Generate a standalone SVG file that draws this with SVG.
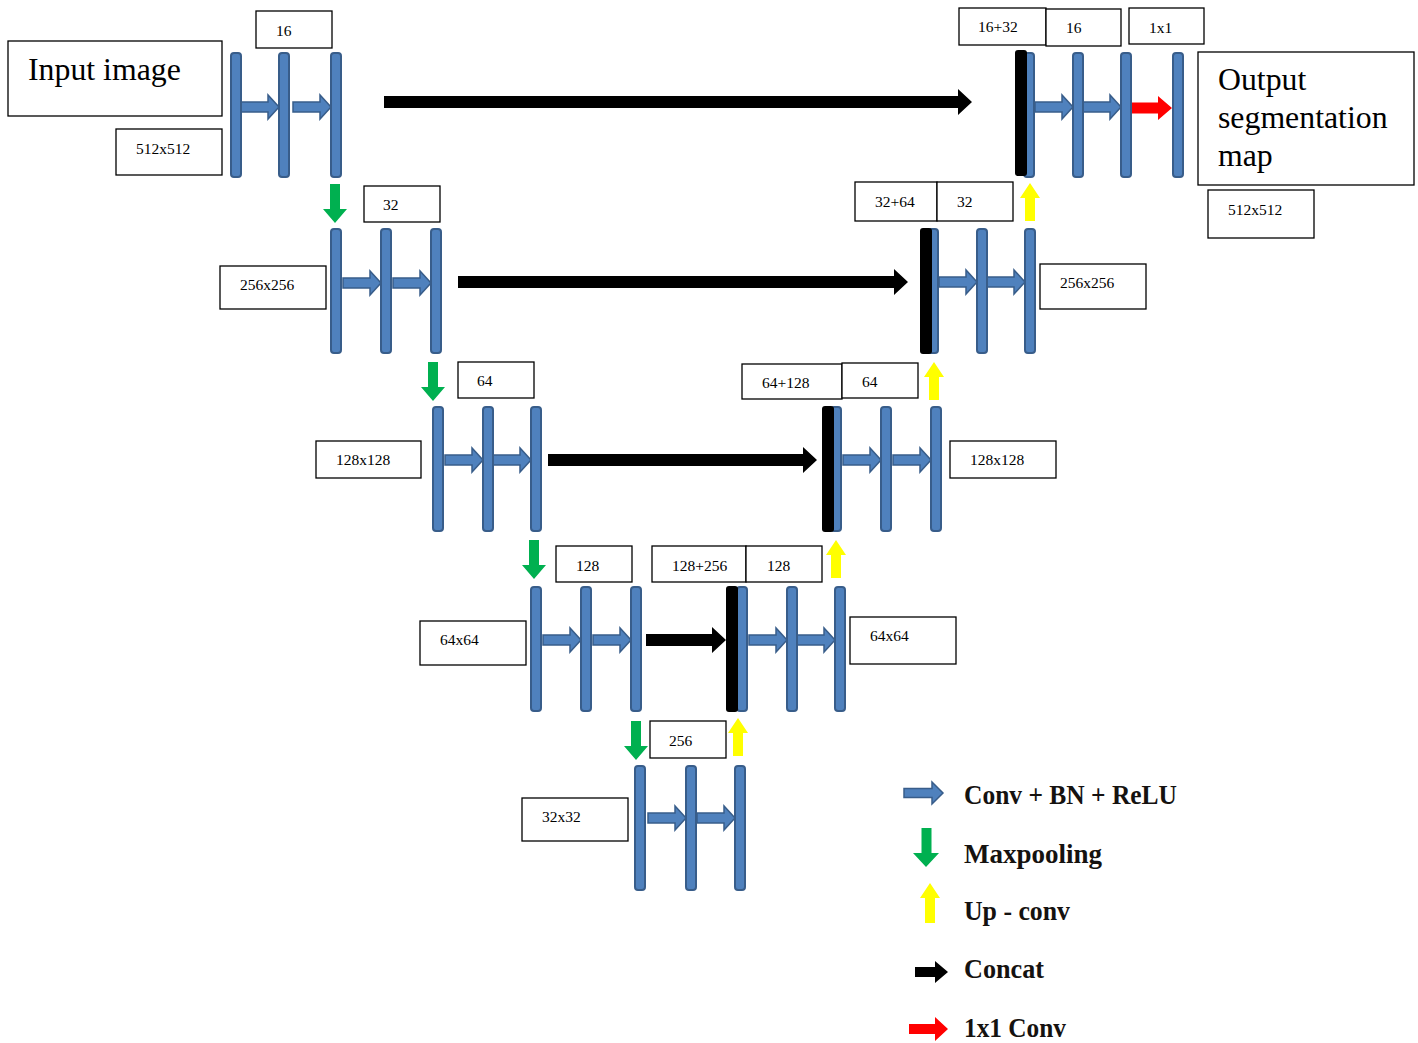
<svg xmlns="http://www.w3.org/2000/svg" width="1418" height="1043" viewBox="0 0 1418 1043">
<style>
.bar{fill:#4f81bd;stroke:#385d8a;stroke-width:2}
.cat{fill:#000}
.box{fill:#fff;stroke:#000;stroke-width:1.3}
.lbl{font-family:"Liberation Serif","Times New Roman",serif;font-size:15.5px;fill:#000}
.big{font-family:"Liberation Serif","Times New Roman",serif;font-size:31.8px;fill:#000}
.leg{font-family:"Liberation Serif","Times New Roman",serif;font-size:27px;font-weight:bold;fill:#151210}
.conv{fill:#4f81bd;stroke:#385d8a;stroke-width:1.5}
.pool{fill:#00b050}
.up{fill:#ffff00}
.concat{fill:#000}
.one{fill:#ff0000}
</style>
<defs>
<rect id="b" class="bar" width="10" height="124" rx="3"/>
<rect id="k" class="cat" width="12" height="126" rx="3"/>
<path id="cv" class="conv" d="M-38,-5 H-11 V-12 L0,0 L-11,12 V5 H-38 Z"/>
<path id="dn" class="pool" d="M-5,0 H5 V25 H12 L0,39 L-12,25 H-5 Z"/>
<path id="upa" class="up" d="M-5,38 H5 V15 H10 L0,0 L-10,15 H-5 Z"/>
</defs>

<g id="connectors">
<use href="#cv" x="279" y="107"/><use href="#cv" x="331" y="107"/>
<use href="#cv" x="381" y="283"/><use href="#cv" x="431" y="283"/>
<use href="#cv" x="483" y="460"/><use href="#cv" x="531" y="460"/>
<use href="#cv" x="581" y="640"/><use href="#cv" x="631" y="640"/>
<use href="#cv" x="686" y="818"/><use href="#cv" x="735" y="818"/>
<use href="#cv" x="787" y="640"/><use href="#cv" x="835" y="640"/>
<use href="#cv" x="881" y="460"/><use href="#cv" x="931" y="460"/>
<use href="#cv" x="977" y="282"/><use href="#cv" x="1025" y="282"/>
<use href="#cv" x="1073" y="107"/><use href="#cv" x="1121" y="107"/>
<path class="one" d="M1132,102.5 H1158 V96 L1172,108 L1158,120 V113.5 H1132 Z"/>
<path class="concat" d="M384,96 H958 V89 L972,102 L958,115 V108 H384 Z"/>
<path class="concat" d="M458,276 H894 V269 L908,282 L894,295 V288 H458 Z"/>
<path class="concat" d="M548,454 H803 V447 L817,460 L803,473 V466 H548 Z"/>
<path class="concat" d="M646,634 H712 V627 L726,640 L712,653 V646 H646 Z"/>
<use href="#dn" x="335" y="184"/>
<use href="#dn" x="433" y="362"/>
<use href="#dn" x="534" y="540"/>
<use href="#dn" x="636" y="721"/>
<use href="#upa" x="1030" y="183"/>
<use href="#upa" x="934" y="362"/>
<use href="#upa" x="836" y="540"/>
<use href="#upa" x="738" y="718"/>
</g>

<g id="enc1"><use href="#b" x="231" y="53"/><use href="#b" x="279" y="53"/><use href="#b" x="331" y="53"/></g>
<g id="enc2"><use href="#b" x="331" y="229"/><use href="#b" x="381" y="229"/><use href="#b" x="431" y="229"/></g>
<g id="enc3"><use href="#b" x="433" y="407"/><use href="#b" x="483" y="407"/><use href="#b" x="531" y="407"/></g>
<g id="enc4"><use href="#b" x="531" y="587"/><use href="#b" x="581" y="587"/><use href="#b" x="631" y="587"/></g>
<g id="bottleneck"><use href="#b" x="635" y="766"/><use href="#b" x="686" y="766"/><use href="#b" x="735" y="766"/></g>
<g id="dec4"><use href="#b" x="737" y="587"/><use href="#k" x="726" y="586"/><use href="#b" x="787" y="587"/><use href="#b" x="835" y="587"/></g>
<g id="dec3"><use href="#b" x="831" y="407"/><use href="#k" x="822" y="406"/><use href="#b" x="881" y="407"/><use href="#b" x="931" y="407"/></g>
<g id="dec2"><use href="#b" x="928" y="229"/><use href="#k" x="920" y="228"/><use href="#b" x="977" y="229"/><use href="#b" x="1025" y="229"/></g>
<g id="dec1"><use href="#b" x="1024" y="53"/><use href="#k" x="1015" y="50"/><use href="#b" x="1073" y="53"/><use href="#b" x="1121" y="53"/><use href="#b" x="1173" y="53"/></g>

<g id="input-box"><rect class="box" x="8" y="41" width="214" height="75"/><text class="big" x="28" y="80">Input image</text></g>
<g id="l-16"><rect class="box" x="256" y="11" width="76" height="37"/><text class="lbl" x="276" y="36">16</text></g>
<g id="l-512a"><rect class="box" x="116" y="129" width="106" height="46"/><text class="lbl" x="136" y="154">512x512</text></g>
<g id="l-32"><rect class="box" x="364" y="186" width="76" height="36"/><text class="lbl" x="383" y="210">32</text></g>
<g id="l-256a"><rect class="box" x="220" y="266" width="106" height="43"/><text class="lbl" x="240" y="290">256x256</text></g>
<g id="l-64"><rect class="box" x="458" y="362" width="76" height="36"/><text class="lbl" x="477" y="386">64</text></g>
<g id="l-128a"><rect class="box" x="316" y="441" width="105" height="37"/><text class="lbl" x="336" y="465">128x128</text></g>
<g id="l-128"><rect class="box" x="556" y="546" width="76" height="36"/><text class="lbl" x="576" y="571">128</text></g>
<g id="l-64a"><rect class="box" x="420" y="621" width="106" height="44"/><text class="lbl" x="440" y="645">64x64</text></g>
<g id="l-256"><rect class="box" x="650" y="721" width="76" height="37"/><text class="lbl" x="669" y="746">256</text></g>
<g id="l-32a"><rect class="box" x="522" y="798" width="106" height="43"/><text class="lbl" x="542" y="822">32x32</text></g>
<g id="l-128-256"><rect class="box" x="652" y="546" width="94" height="36"/><text class="lbl" x="672" y="571">128+256</text></g>
<g id="l-128b"><rect class="box" x="746" y="546" width="76" height="36"/><text class="lbl" x="767" y="571">128</text></g>
<g id="l-64b"><rect class="box" x="850" y="617" width="106" height="47"/><text class="lbl" x="870" y="641">64x64</text></g>
<g id="l-64-128"><rect class="box" x="742" y="364" width="100" height="35"/><text class="lbl" x="762" y="388">64+128</text></g>
<g id="l-64c"><rect class="box" x="842" y="363" width="76" height="35"/><text class="lbl" x="862" y="387">64</text></g>
<g id="l-128b2"><rect class="box" x="950" y="441" width="106" height="37"/><text class="lbl" x="970" y="465">128x128</text></g>
<g id="l-32-64"><rect class="box" x="855" y="182" width="82" height="39"/><text class="lbl" x="875" y="207">32+64</text></g>
<g id="l-32b"><rect class="box" x="937" y="182" width="76" height="39"/><text class="lbl" x="957" y="207">32</text></g>
<g id="l-256b"><rect class="box" x="1040" y="264" width="106" height="45"/><text class="lbl" x="1060" y="288">256x256</text></g>
<g id="l-16-32"><rect class="box" x="959" y="8" width="87" height="37"/><text class="lbl" x="978" y="32">16+32</text></g>
<g id="l-16b"><rect class="box" x="1046" y="9" width="75" height="37"/><text class="lbl" x="1066" y="33">16</text></g>
<g id="l-1x1"><rect class="box" x="1129" y="8" width="75" height="36"/><text class="lbl" x="1149" y="33">1x1</text></g>
<g id="output-box"><rect class="box" x="1198" y="52" width="216" height="133"/>
<text class="big" x="1218" y="90">Output</text><text class="big" x="1218" y="128">segmentation</text><text class="big" x="1218" y="166">map</text></g>
<g id="l-512b"><rect class="box" x="1208" y="190" width="106" height="48"/><text class="lbl" x="1228" y="215">512x512</text></g>

<g id="legend">
<path class="conv" d="M904,788.5 H932 V782 L943,793 L932,804 V797.5 H904 Z"/>
<text class="leg" x="964" y="804" textLength="213" lengthAdjust="spacingAndGlyphs">Conv + BN + ReLU</text>
<path class="pool" d="M921.5,828 H931.5 V853 H939 L926,867 L913,853 H921.5 Z"/>
<text class="leg" x="964" y="863" textLength="138" lengthAdjust="spacingAndGlyphs">Maxpooling</text>
<path class="up" d="M925,923 H935 V898 H940 L930,883 L920,898 H925 Z"/>
<text class="leg" x="964" y="920" textLength="106" lengthAdjust="spacingAndGlyphs">Up - conv</text>
<path class="concat" d="M915,967 H935 V961 L948,972 L935,983 V977 H915 Z"/>
<text class="leg" x="964" y="978" textLength="80" lengthAdjust="spacingAndGlyphs">Concat</text>
<path class="one" d="M909,1024 H935 V1017 L948,1029 L935,1041 V1034 H909 Z"/>
<text class="leg" x="964" y="1037" textLength="102" lengthAdjust="spacingAndGlyphs">1x1 Conv</text>
</g>
</svg>
